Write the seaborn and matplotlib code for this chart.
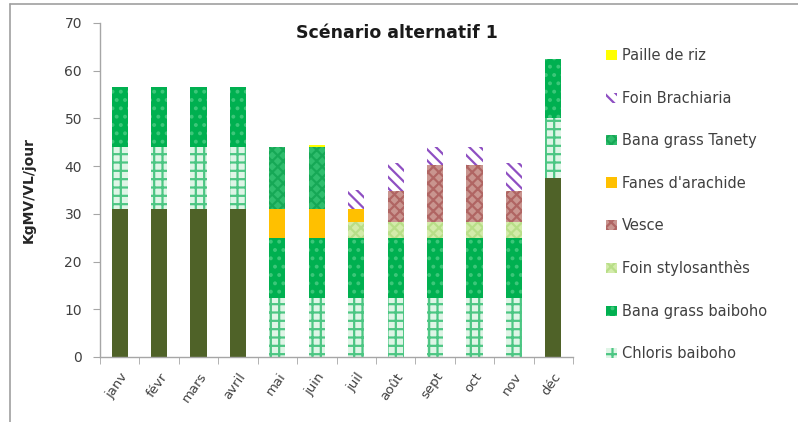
import numpy as np
import pandas as pd
import matplotlib
matplotlib.use('Agg')
import matplotlib.pyplot as plt
import seaborn as sns
from matplotlib.lines import Line2D

months = ['janv', 'févr', 'mars', 'avril', 'mai', 'juin', 'juil', 'août', 'sept', 'oct', 'nov', 'déc']

# stacked from bottom to top
fourrage_base = [31, 31, 31, 31, 0, 0, 0, 0, 0, 0, 0, 37.5]
chloris_baiboho = [13, 13, 13, 13, 12.3, 12.3, 12.3, 12.3, 12.3, 12.3, 12.3, 12.5]
bana_baiboho = [12.5, 12.5, 12.5, 12.5, 12.7, 12.7, 12.7, 12.7, 12.7, 12.7, 12.7, 12.5]
foin_stylo = [0, 0, 0, 0, 0, 0, 3.3, 3.3, 3.3, 3.3, 3.3, 0]
vesce = [0, 0, 0, 0, 0, 0, 0, 6.5, 12, 12, 6.5, 0]
fanes_arachide = [0, 0, 0, 0, 6, 6, 2.8, 0, 0, 0, 0, 0]
bana_tanety = [0, 0, 0, 0, 13, 13, 0, 0, 0, 0, 0, 0]
foin_brachiaria = [0, 0, 0, 0, 0, 0, 3.8, 5.9, 3.7, 3.7, 5.9, 0]
paille_riz = [0, 0, 0, 0, 0, 0.4, 0, 0, 0, 0, 0, 0]

series = [
    ('_base', fourrage_base, '#4f6228', None, '#4f6228'),
    ('Chloris baiboho', chloris_baiboho, '#dff5e6', '++', '#4cc683'),
    ('Bana grass baiboho', bana_baiboho, '#00b050', '..', '#3cc779'),
    ('Foin stylosanthès', foin_stylo, '#d3ebaa', 'xxx', '#b8de88'),
    ('Vesce', vesce, '#c9958f', 'xxx', '#b06563'),
    ("Fanes d'arachide", fanes_arachide, '#ffc000', None, '#ffc000'),
    ('Bana grass Tanety', bana_tanety, '#2fbd6d', 'xxx', '#16a856'),
    ('Foin Brachiaria', foin_brachiaria, 'white', '\\\\\\', '#8e4fc2'),
    ('Paille de riz', paille_riz, '#ffff00', None, '#ffff00'),
]

sns.set_style('white')
plt.rcParams['font.family'] = ['DejaVu Sans']
plt.rcParams['hatch.linewidth'] = 1.6

fig = plt.figure(figsize=(7.98, 4.22), dpi=100)
ax = fig.add_axes([100 / 798, 1 - 357 / 422, 473 / 798, 334 / 422])

bottom = np.zeros(len(months))
handles = []
for name, vals, face, hatch, edge in series:
    df = pd.DataFrame({'mois': months, 'val': vals})
    before = len(ax.patches)
    sns.barplot(data=df, x='mois', y='val', bottom=bottom, color=face, width=0.41,
                saturation=1, ax=ax, errorbar=None)
    for p in ax.patches[before:]:
        p.set_facecolor(face)
        p.set_edgecolor(edge)
        p.set_linewidth(0)
        if hatch:
            p.set_hatch(hatch)
    if not name.startswith('_'):
        h = plt.Rectangle((0, 0), 1, 1, facecolor=face, edgecolor=edge, hatch=hatch, linewidth=0)
        handles.append((h, name))
    bottom = bottom + np.array(vals)

ax.set_ylim(0, 70)
ax.set_xlim(-0.5, 11.5)
ax.set_yticks(range(0, 71, 10))
ax.set_xlabel('')
ax.set_ylabel('KgMV/VL/jour', fontsize=10, fontweight='bold')
ax.yaxis.set_label_coords(-0.135, 0.5)

for s in ['top', 'right']:
    ax.spines[s].set_visible(False)
for s in ['left', 'bottom']:
    ax.spines[s].set_color('#a6a6a6')
    ax.spines[s].set_linewidth(1)

ax.tick_params(axis='y', left=True, length=5, color='#a6a6a6', labelsize=10, labelcolor='#404040', pad=8)
ax.set_xticks(range(12))
ax.set_xticklabels(months, rotation=55, ha='right', rotation_mode='anchor', fontsize=9.5, color='#404040')
ax.tick_params(axis='x', bottom=False, pad=6)
ax.set_xticks(np.arange(-0.5, 12, 1), minor=True)
ax.tick_params(axis='x', which='minor', bottom=True, length=5, color='#a6a6a6')

fig.text(397 / 798, 1 - 33 / 422, 'Scénario alternatif 1', ha='center', va='center',
         fontsize=12.5, fontweight='bold', color='#1a1a1a')

handles = handles[::-1]
leg = fig.legend([h for h, n in handles], [n for h, n in handles],
                 loc='upper left', bbox_to_anchor=(599 / 798, 1 - 41 / 422),
                 frameon=False, fontsize=10.5, handlelength=0.7, handleheight=0.7,
                 handletextpad=0.35, labelspacing=1.88, borderpad=0)
for t in leg.get_texts():
    t.set_color('#404040')

# outer chart border
fig.add_artist(Line2D([10 / 798, 10 / 798], [0, 1 - 4 / 422], transform=fig.transFigure,
                      color='#a0a0a0', linewidth=1.2))
fig.add_artist(Line2D([10 / 798, 1], [1 - 4 / 422, 1 - 4 / 422], transform=fig.transFigure,
                      color='#a0a0a0', linewidth=1.2))

fig.savefig('out.png', dpi=100)
